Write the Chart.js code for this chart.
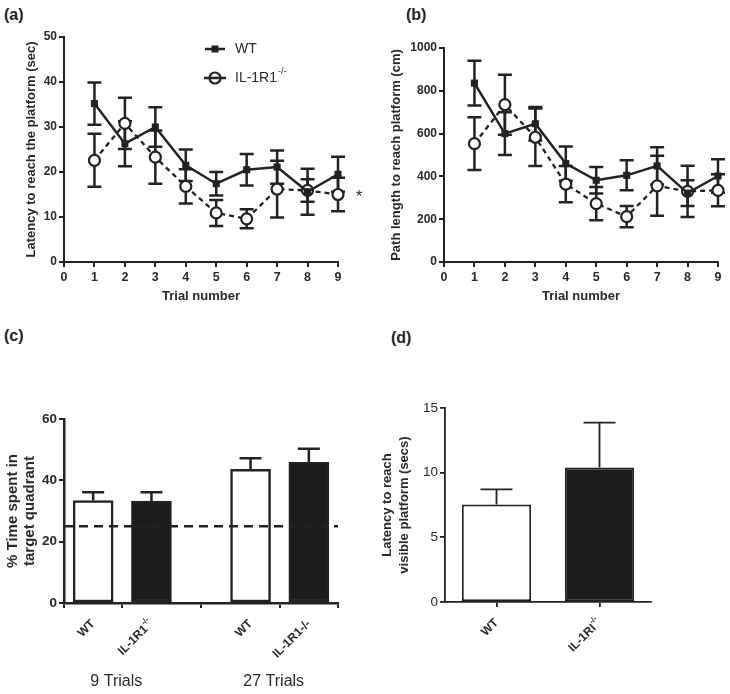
<!DOCTYPE html>
<html><head><meta charset="utf-8">
<script src="https://cdn.jsdelivr.net/npm/chart.js@4"></script>
<style>
html,body{margin:0;padding:0;background:#fff}
body{width:730px;height:694px;position:relative;overflow:hidden;font-family:'Liberation Sans',Arial,sans-serif}
canvas{position:absolute}
.lbl{position:absolute;font:bold 16px 'Liberation Sans',Arial,sans-serif;color:#222;line-height:16px}
</style></head><body>
<div class="lbl" style="left:4px;top:7px">(a)</div>
<div class="lbl" style="left:406px;top:7px">(b)</div>
<div class="lbl" style="left:4px;top:328px">(c)</div>
<div class="lbl" style="left:391px;top:330px">(d)</div>
<canvas id="ca" width="365" height="310" style="left:0;top:0"></canvas>
<canvas id="cb" width="365" height="310" style="left:365px;top:0"></canvas>
<canvas id="cc" width="365" height="374" style="left:0;top:320px"></canvas>
<canvas id="cd" width="365" height="374" style="left:365px;top:320px"></canvas>
<script>
// ---------------- data ----------------
const trials = [1, 2, 3, 4, 5, 6, 7, 8, 9];
const seriesNames = ['WT', 'IL-1R1^-/-'];
const wtLatency = [35.2, 26.3, 30.0, 21.5, 17.4, 20.5, 21.1, 15.6, 19.5];
const wtLatencySem = [4.7, 5.0, 4.4, 3.5, 2.6, 3.5, 3.7, 5.1, 3.9];
const koLatency = [22.6, 30.8, 23.3, 16.8, 10.9, 9.6, 16.2, 15.9, 15.0];
const koLatencySem = [5.9, 5.7, 5.9, 3.8, 2.9, 2.1, 6.3, 2.5, 3.7];
const wtPath = [836, 600, 646, 460, 382, 405, 449, 322, 402];
const wtPathSem = [105, 100, 78, 80, 62, 70, 87, 60, 78];
const koPath = [553, 735, 583, 364, 273, 212, 356, 330, 335];
const koPathSem = [123, 140, 134, 85, 78, 50, 140, 120, 75];
const quadrantGroups = ['9 Trials', '27 Trials'];
const quadrantTickLabels = [['WT', 'IL-1R1^-/-'], ['WT', 'IL-1R1-/-']];
const wtQuadrant = [33.4, 43.6];
const wtQuadrantSem = [2.7, 3.6];
const koQuadrant = [33.2, 45.9];
const koQuadrantSem = [2.9, 4.4];
const chanceLevel = 25;
const visibleLabels = ['WT', 'IL-1RI^-/-'];
const visibleLatency = [7.53, 10.39];
const visibleSem = [1.18, 3.48];

// ---------------- style ----------------
const INK = '#222';
const TXT = '#2a2a2a';
const FF = "'Liberation Sans', Arial, sans-serif";
Chart.defaults.font.family = FF;
Chart.defaults.color = TXT;
Chart.defaults.animation = false;
Chart.defaults.responsive = false;
Chart.defaults.plugins.legend.display = false;
Chart.defaults.plugins.tooltip.enabled = false;

function splitSup(s) { const k = s.indexOf('^'); return k < 0 ? [s, ''] : [s.slice(0, k), s.slice(k + 1)]; }

// error bar plugin (uses the chart's own scales)
const errorBars = {
  id: 'errorBars',
  beforeDatasetsDraw(chart, args, opts) {
    const ctx = chart.ctx;
    (opts.sets || []).forEach(s => {
      const meta = chart.getDatasetMeta(s.dataset);
      const ys = chart.scales[meta.yAxisID];
      const ds = chart.data.datasets[s.dataset];
      ctx.save();
      ctx.strokeStyle = INK; ctx.lineWidth = s.width; ctx.setLineDash([]); ctx.lineCap = 'butt';
      meta.data.forEach((el, i) => {
        const d = ds.data[i];
        const v = typeof d === 'object' ? d.y : d;
        const x = el.x;
        const top = ys.getPixelForValue(v + s.errors[i]);
        const bot = ys.getPixelForValue(s.upOnly ? v : v - s.errors[i]);
        ctx.beginPath();
        ctx.moveTo(x, top); ctx.lineTo(x, bot);
        ctx.moveTo(x - s.cap, top); ctx.lineTo(x + s.cap, top);
        if (!s.upOnly) { ctx.moveTo(x - s.cap, bot); ctx.lineTo(x + s.cap, bot); }
        ctx.stroke();
      });
      ctx.restore();
    });
  }
};

// rotated tick labels with superscripts
const rotLabels = {
  id: 'rotLabels',
  afterDraw(chart, args, opts) {
    if (!opts.labels) return;
    const ctx = chart.ctx, xs = chart.scales.x;
    const font = 'bold 12px ' + FF, sfont = 'bold 8px ' + FF;
    opts.labels.forEach((lab, i) => {
      const [main, sup] = splitSup(lab);
      const x = xs.getPixelForValue(opts.values[i]);
      const y = xs.top + 19;
      ctx.save();
      ctx.translate(x, y); ctx.rotate(-Math.PI / 4);
      ctx.fillStyle = TXT; ctx.textBaseline = 'middle'; ctx.textAlign = 'left';
      ctx.font = font; const wm = ctx.measureText(main).width;
      ctx.font = sfont; const ws = sup ? ctx.measureText(sup).width : 0;
      ctx.font = font; ctx.fillText(main, -(wm + ws), 0);
      if (sup) { ctx.font = sfont; ctx.fillText(sup, -ws, -5); }
      ctx.restore();
    });
    if (opts.groups) {
      ctx.save();
      ctx.font = '16px ' + FF; ctx.fillStyle = TXT; ctx.textAlign = 'center'; ctx.textBaseline = 'middle';
      opts.groups.forEach(g => {
        const x = (xs.getPixelForValue(g.from) + xs.getPixelForValue(g.to)) / 2 - 6;
        ctx.fillText(g.text, x, xs.top + 79);
      });
      ctx.restore();
    }
  }
};

// legend + asterisk for panel (a)
const panelALegend = {
  id: 'panelALegend',
  afterDraw(chart) {
    const ctx = chart.ctx;
    const lx = 215, ty = [49, 78];
    ctx.save();
    ctx.strokeStyle = INK; ctx.fillStyle = INK; ctx.lineWidth = 2.5;
    ctx.beginPath(); ctx.moveTo(lx - 10, ty[0]); ctx.lineTo(lx + 10, ty[0]); ctx.stroke();
    ctx.fillRect(lx - 3.5, ty[0] - 3.5, 7, 7);
    ctx.beginPath(); ctx.moveTo(lx - 11, ty[1]); ctx.lineTo(lx + 11, ty[1]); ctx.stroke();
    ctx.beginPath(); ctx.arc(lx, ty[1], 5.5, 0, Math.PI * 2);
    ctx.lineWidth = 2.2; ctx.stroke();
    ctx.fillStyle = TXT; ctx.textBaseline = 'middle'; ctx.textAlign = 'left';
    ctx.font = '14px ' + FF;
    const [m0] = splitSup(seriesNames[0]);
    ctx.fillText(m0, lx + 20, ty[0]);
    const [m1, s1] = splitSup(seriesNames[1]);
    ctx.fillText(m1, lx + 20, ty[1]);
    const w = ctx.measureText(m1).width;
    ctx.font = '9px ' + FF; ctx.fillText(s1, lx + 21 + w, ty[1] - 6);
    // significance star beside last point of the knockout series
    const ys = chart.scales.y, xs = chart.scales.x;
    ctx.font = '17px ' + FF; ctx.textAlign = 'center';
    ctx.fillText('*', xs.right + 21, ys.getPixelForValue(koLatency[koLatency.length - 1]) + 3);
    ctx.restore();
  }
};

function fixW(w) { return s => { s.width = w; }; }
function fixH(h) { return s => { s.height = h; }; }

function lineChart(id, wt, wtE, ko, koE, yMax, yStep, yTitle, pad, yW, titlePad) {
  return new Chart(document.getElementById(id), {
    type: 'line',
    data: {
      datasets: [
        { data: trials.map((t, i) => ({ x: t, y: wt[i] })), borderColor: INK, backgroundColor: INK, borderWidth: 2.5,
          pointStyle: 'rect', pointRadius: 5, pointBorderWidth: 0, pointBackgroundColor: INK, clip: false },
        { data: trials.map((t, i) => ({ x: t, y: ko[i] })), borderColor: INK, borderWidth: 2.3, borderDash: [5, 4],
          pointStyle: 'circle', pointRadius: 5.5, pointBorderWidth: 2.2, pointBackgroundColor: '#fff', pointBorderColor: INK, clip: false }
      ]
    },
    options: {
      layout: { padding: pad },
      scales: {
        x: { type: 'linear', min: 0, max: 9, afterFit: fixH(48),
          afterBuildTicks: s => { s.ticks = [0,1,2,3,4,5,6,7,8,9].map(v => ({ value: v })); },
          border: { display: true, color: INK, width: 2 },
          grid: { drawOnChartArea: false, drawTicks: true, tickLength: 5, color: INK, lineWidth: 2 },
          ticks: { font: { size: 12.5, weight: 'bold' }, padding: 3, maxRotation: 0, color: TXT },
          title: { display: true, text: 'Trial number', font: { size: 13, weight: 'bold' }, padding: { top: 0, bottom: 6 }, color: TXT } },
        y: { min: 0, max: yMax, afterFit: fixW(yW),
          border: { display: true, color: INK, width: 2 },
          grid: { drawOnChartArea: false, drawTicks: true, tickLength: 5, color: INK, lineWidth: 2 },
          ticks: { stepSize: yStep, font: { size: 12, weight: 'bold' }, padding: 2, color: TXT, callback: v => String(v) },
          title: { display: true, text: yTitle, font: { size: 13, weight: 'bold' }, padding: { top: titlePad, bottom: 0 }, color: TXT } }
      },
      plugins: {
        errorBars: { sets: [
          { dataset: 0, errors: wtE, cap: 7, width: 2.5 },
          { dataset: 1, errors: koE, cap: 7, width: 2.5 }
        ] }
      }
    },
    plugins: [errorBars].concat(id === 'ca' ? [panelALegend] : [])
  });
}

lineChart('ca', wtLatency, wtLatencySem, koLatency, koLatencySem, 50, 10,
  'Latency to reach the platform (sec)', { top: 37, right: 27, left: 0, bottom: 0 }, 64, 24);
lineChart('cb', wtPath, wtPathSem, koPath, koPathSem, 1000, 200,
  'Path length to reach platform (cm)', { top: 48, right: 12, left: 0, bottom: 0 }, 79, 24);

// ---------------- panel (c) ----------------
const groupGap = 2.7;
const barX = (g, i) => g * groupGap + i + 0.5;
const xMaxC = groupGap + 2;
const cTickValues = [barX(0, 0), barX(0, 1), barX(1, 0), barX(1, 1)];
new Chart(document.getElementById('cc'), {
  type: 'bar',
  data: {
    datasets: [
      { type: 'line', data: [{ x: 0, y: chanceLevel }, { x: xMaxC, y: chanceLevel }], borderColor: INK, borderWidth: 2.5,
        borderDash: [9, 6], pointRadius: 0, order: 0 },
      { data: wtQuadrant.map((v, g) => ({ x: barX(g, 0), y: v })), backgroundColor: '#fff', borderColor: INK, borderWidth: 2.5,
        borderSkipped: false, barThickness: 40, grouped: false, order: 1 },
      { data: koQuadrant.map((v, g) => ({ x: barX(g, 1), y: v })), backgroundColor: '#1c1c1c', borderColor: INK, borderWidth: 2.5,
        borderSkipped: false, barThickness: 40, grouped: false, order: 1 }
    ]
  },
  options: {
    layout: { padding: { top: 99, right: 27, left: 0, bottom: 0 } },
    scales: {
      x: { type: 'linear', min: 0, max: xMaxC, offset: false, afterFit: fixH(91),
        afterBuildTicks: s => { s.ticks = cTickValues.map(v => ({ value: v })); },
        border: { display: true, color: INK, width: 2.5 },
        grid: { drawOnChartArea: false, drawTicks: true, tickLength: 5, color: INK, lineWidth: 2 },
        ticks: { callback: () => '', maxRotation: 0 } },
      y: { min: 0, max: 60, afterFit: fixW(64),
        border: { display: true, color: INK, width: 2.5 },
        grid: { drawOnChartArea: false, drawTicks: true, tickLength: 5, color: INK, lineWidth: 2 },
        ticks: { stepSize: 20, font: { size: 13.5, weight: 'bold' }, padding: 2, color: TXT },
        title: { display: true, text: ['% Time spent in', 'target quadrant'], font: { size: 15, weight: 'bold', lineHeight: 1.15 },
          padding: { top: 4, bottom: 0 }, color: TXT } }
    },
    plugins: {
      errorBars: { sets: [
        { dataset: 1, errors: wtQuadrantSem, cap: 11, width: 2.5, upOnly: true },
        { dataset: 2, errors: koQuadrantSem, cap: 11, width: 2.5, upOnly: true }
      ] },
      rotLabels: { labels: quadrantTickLabels.flat(), values: cTickValues,
        groups: quadrantGroups.map((t, g) => ({ text: t, from: barX(g, 0), to: barX(g, 1) })) }
    }
  },
  plugins: [errorBars, rotLabels]
});

// ---------------- panel (d) ----------------
new Chart(document.getElementById('cd'), {
  type: 'bar',
  data: {
    labels: visibleLabels,
    datasets: [
      { data: visibleLatency, backgroundColor: ['#fff', '#1c1c1c'], borderColor: INK, borderWidth: 1.8,
        borderSkipped: false, barPercentage: 0.67, categoryPercentage: 1 }
    ]
  },
  options: {
    layout: { padding: { top: 88, right: 79, left: 0, bottom: 0 } },
    scales: {
      x: { type: 'category', offset: true, afterFit: fixH(92),
        border: { display: true, color: INK, width: 1.8 },
        grid: { offset: false, drawOnChartArea: false, drawTicks: true, tickLength: 5, color: INK, lineWidth: 1.8 },
        ticks: { callback: () => '', maxRotation: 0 } },
      y: { min: 0, max: 15, afterFit: fixW(80),
        border: { display: true, color: INK, width: 1.8 },
        grid: { drawOnChartArea: false, drawTicks: true, tickLength: 5, color: INK, lineWidth: 1.8 },
        ticks: { stepSize: 5, font: { size: 13.5 }, padding: 2, color: TXT },
        title: { display: true, text: ['Latency to reach', 'visible platform (secs)'], font: { size: 13, weight: 'bold', lineHeight: 1.3 },
          padding: { top: 14, bottom: 0 }, color: TXT } }
    },
    plugins: {
      errorBars: { sets: [{ dataset: 0, errors: visibleSem, cap: 16, width: 1.8, upOnly: true }] },
      rotLabels: { labels: visibleLabels, values: [0, 1] }
    }
  },
  plugins: [errorBars, rotLabels]
});
</script>
</body></html>
